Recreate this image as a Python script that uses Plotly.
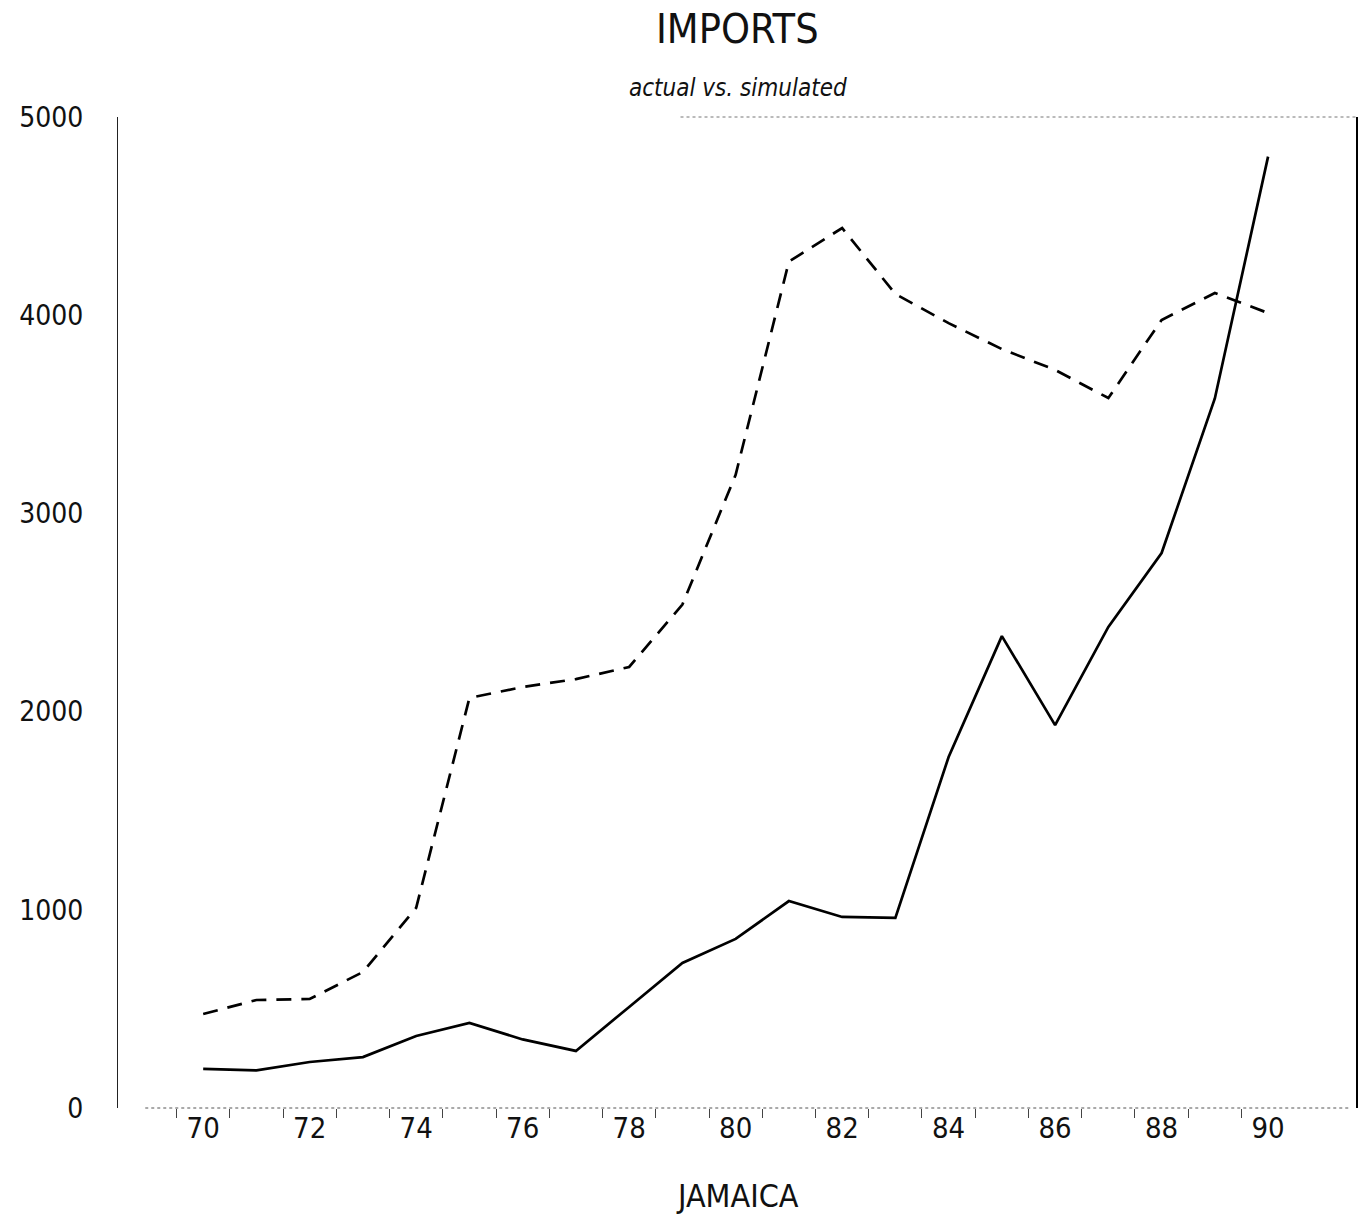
import plotly.graph_objects as go

# Jamaica imports, actual vs. simulated (1970-1990)
years = list(range(70, 91))
actual = [197, 190, 232, 257, 363, 429, 346, 288, 510, 732, 853,
          1044, 964, 959, 1771, 2381, 1932, 2427, 2800, 3580, 4800]
simulated = [474, 545, 550, 686, 1010, 2069, 2124, 2164, 2225, 2540, 3195,
             4270, 4440, 4107, 3960, 3829, 3724, 3582, 3976, 4112, 4011]

y_ticks = [0, 1000, 2000, 3000, 4000, 5000]
x_ticks = list(range(70, 91, 2))
x_minor = [y - 0.5 for y in range(70, 91)]

FONT = "DejaVu Sans Condensed, DejaVu Sans, sans-serif"

fig = go.Figure()
fig.add_trace(go.Scatter(x=years, y=simulated, mode="lines",
                         line=dict(color="black", width=2.7, dash="15px,10px"),
                         name="simulated"))
fig.add_trace(go.Scatter(x=years, y=actual, mode="lines",
                         line=dict(color="black", width=2.7),
                         name="actual"))

fig.update_layout(
    width=1364, height=1219,
    margin=dict(l=118, r=7, t=117, b=111),
    paper_bgcolor="white", plot_bgcolor="white",
    showlegend=False,
    font=dict(family=FONT, color="black"),
    xaxis=dict(range=[68.4, 91.67], tickmode="array", tickvals=x_ticks,
               ticktext=[str(v) for v in x_ticks], ticks="",
               showgrid=False, zeroline=False, showline=False,
               tickfont=dict(size=29, family=FONT, color="#111"),
               minor=dict(tickmode="array", tickvals=x_minor, ticks="outside",
                          ticklen=9, tickwidth=1, tickcolor="#444",
                          showgrid=False)),
    yaxis=dict(range=[0, 5000], tickmode="array", tickvals=y_ticks,
               ticks="", showgrid=False, zeroline=False,
               showline=True, linecolor="#222", linewidth=1,
               ticklabelstandoff=28,
               tickfont=dict(size=28, family=FONT, color="#111")),
    shapes=[
        dict(type="line", xref="paper", yref="paper", x0=1, x1=1, y0=0, y1=1,
             line=dict(color="black", width=2)),
        dict(type="line", xref="paper", yref="paper", x0=0.022, x1=0.994,
             y0=0, y1=0, line=dict(color="#555", width=1, dash="dot")),
        dict(type="line", xref="paper", yref="paper", x0=0.454, x1=1,
             y0=1, y1=1, line=dict(color="#777", width=1, dash="dot")),
    ],
    annotations=[
        dict(text="IMPORTS", xref="paper", yref="paper", x=0.5, y=1.0888,
             xanchor="center", yanchor="middle", showarrow=False,
             font=dict(size=41, family=FONT, color="#111")),
        dict(text="<i>actual vs. simulated</i>", xref="paper", yref="paper",
             x=0.5, y=1.0293, xanchor="center", yanchor="middle",
             showarrow=False, font=dict(size=24, family=FONT, color="#111")),
        dict(text="JAMAICA", xref="paper", yref="paper", x=0.5, y=-0.0888,
             xanchor="center", yanchor="middle", showarrow=False,
             font=dict(size=32, family=FONT, color="#111")),
    ],
)

fig.write_html("out.html")
